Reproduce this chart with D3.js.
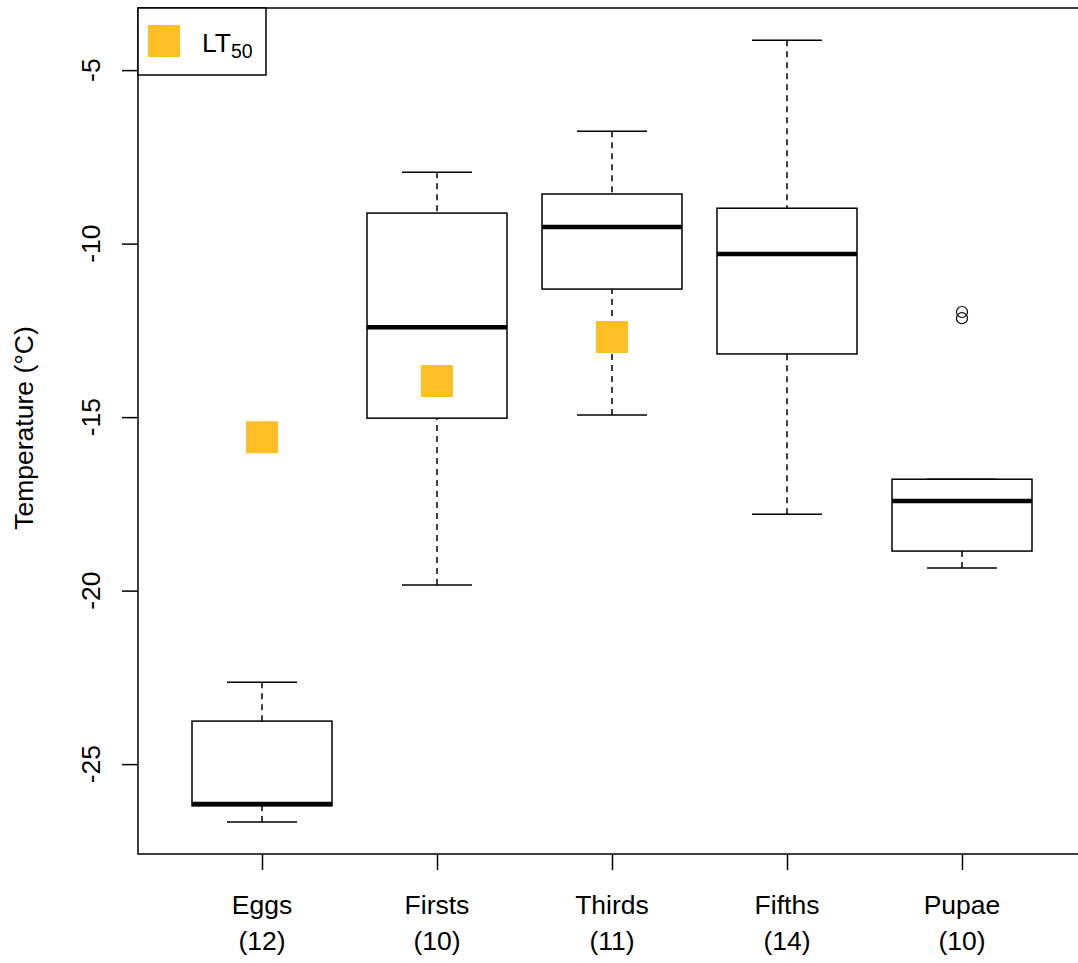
<!DOCTYPE html>
<html>
<head>
<meta charset="utf-8">
<script src="https://cdn.jsdelivr.net/npm/d3@7"></script>
<style>
  body { margin: 0; background: #fff; }
  text { font-family: "Liberation Sans", Arial, sans-serif; fill: #000; }
</style>
</head>
<body>
<svg id="chart" width="1078" height="963"></svg>
<script>
// stages and sample sizes
const stages = ['Eggs', 'Firsts', 'Thirds', 'Fifths', 'Pupae'];
const counts = [12, 10, 11, 14, 10];

// boxplot stats: lower whisker, Q1, median, Q3, upper whisker
const lowerWhisker = [-26.67, -19.84, -14.94, -17.80, -19.35];
const q1 = [-26.2, -15.03, -11.31, -13.18, -18.86];
const medians = [-26.15, -12.41, -9.52, -10.30, -17.42];
const q3 = [-23.76, -9.12, -8.57, -8.98, -16.79];
const upperWhisker = [-22.64, -7.94, -6.76, -4.14, -16.79];

// outliers as [stage, value]
const outliers = [['Pupae', -11.97], ['Pupae', -12.15]];

// LT50 points
const lt50Stages = ['Eggs', 'Firsts', 'Thirds'];
const lt50Values = [-15.58, -13.96, -12.69];

const yTicks = [-5, -10, -15, -20, -25];

const CONFIG = {
    LEFT: 138, RIGHT: 1225, TOP: 8, BOTTOM: 854,
    BOX_WIDTH: 140, CAP_WIDTH: 70,
    LT_COLOR: '#FDBE26',
    FONT_SIZE: 26.5
};

const svg = d3.select('#chart');

const x = d3.scalePoint()
    .domain(stages)
    .range([262, 962]);

const y = d3.scaleLinear()
    .domain([-27.59, -3.21])
    .range([CONFIG.BOTTOM, CONFIG.TOP]);

const boxes = stages.map((s, i) => ({
    stage: s, n: counts[i],
    lo: lowerWhisker[i], q1: q1[i], med: medians[i], q3: q3[i], hi: upperWhisker[i]
}));

const g = svg.append('g');

// whiskers (dashed)
g.selectAll('.whisk-lo').data(boxes).enter().append('line')
    .attr('x1', d => x(d.stage)).attr('x2', d => x(d.stage))
    .attr('y1', d => y(d.lo)).attr('y2', d => y(d.q1))
    .attr('stroke', '#000').attr('stroke-width', 1.5).attr('stroke-dasharray', '6,5');
g.selectAll('.whisk-hi').data(boxes).enter().append('line')
    .attr('x1', d => x(d.stage)).attr('x2', d => x(d.stage))
    .attr('y1', d => y(d.hi)).attr('y2', d => y(d.q3))
    .attr('stroke', '#000').attr('stroke-width', 1.5).attr('stroke-dasharray', '6,5');

// caps
['lo', 'hi'].forEach(k => {
    g.selectAll('.cap-' + k).data(boxes).enter().append('line')
        .attr('x1', d => x(d.stage) - CONFIG.CAP_WIDTH / 2)
        .attr('x2', d => x(d.stage) + CONFIG.CAP_WIDTH / 2)
        .attr('y1', d => y(d[k])).attr('y2', d => y(d[k]))
        .attr('stroke', '#000').attr('stroke-width', 1.5);
});

// boxes
g.selectAll('.box').data(boxes).enter().append('rect')
    .attr('x', d => x(d.stage) - CONFIG.BOX_WIDTH / 2)
    .attr('width', CONFIG.BOX_WIDTH)
    .attr('y', d => y(d.q3))
    .attr('height', d => y(d.q1) - y(d.q3))
    .attr('fill', '#fff').attr('stroke', '#000').attr('stroke-width', 1.5);

// medians
g.selectAll('.median').data(boxes).enter().append('line')
    .attr('x1', d => x(d.stage) - CONFIG.BOX_WIDTH / 2)
    .attr('x2', d => x(d.stage) + CONFIG.BOX_WIDTH / 2)
    .attr('y1', d => y(d.med)).attr('y2', d => y(d.med))
    .attr('stroke', '#000').attr('stroke-width', 4.5);

// outliers
g.selectAll('.outlier').data(outliers).enter().append('circle')
    .attr('cx', d => x(d[0])).attr('cy', d => y(d[1]))
    .attr('r', 5.5)
    .attr('fill', 'none').attr('stroke', '#000').attr('stroke-width', 1.2);

// LT50 squares
g.selectAll('.lt50').data(lt50Stages).enter().append('rect')
    .attr('x', d => x(d) - 16)
    .attr('y', (d, i) => y(lt50Values[i]) - 16)
    .attr('width', 32).attr('height', 32)
    .attr('fill', CONFIG.LT_COLOR);

// plot frame
svg.append('rect')
    .attr('x', CONFIG.LEFT).attr('y', CONFIG.TOP)
    .attr('width', CONFIG.RIGHT - CONFIG.LEFT)
    .attr('height', CONFIG.BOTTOM - CONFIG.TOP)
    .attr('fill', 'none').attr('stroke', '#000').attr('stroke-width', 1.5);

// y axis
const yAxis = svg.append('g')
    .attr('transform', 'translate(' + CONFIG.LEFT + ',0)')
    .call(d3.axisLeft(y).tickValues(yTicks).tickSize(16).tickFormat(''));
yAxis.select('.domain').remove();
yAxis.selectAll('line').attr('stroke', '#000').attr('stroke-width', 1.5);

svg.append('g').selectAll('text').data(yTicks).enter().append('text')
    .attr('transform', d => 'translate(100,' + y(d) + ') rotate(-90)')
    .attr('text-anchor', 'middle')
    .style('font-size', CONFIG.FONT_SIZE + 'px')
    .text(d => String(d));

// x axis
const xAxis = svg.append('g')
    .attr('transform', 'translate(0,' + CONFIG.BOTTOM + ')')
    .call(d3.axisBottom(x).tickSize(16).tickFormat(''));
xAxis.select('.domain').remove();
xAxis.selectAll('line').attr('stroke', '#000').attr('stroke-width', 1.5);

const xLabels = svg.append('g').selectAll('text').data(boxes).enter();
xLabels.append('text')
    .attr('x', d => x(d.stage)).attr('y', 914)
    .attr('text-anchor', 'middle')
    .style('font-size', CONFIG.FONT_SIZE + 'px')
    .text(d => d.stage);
xLabels.append('text')
    .attr('x', d => x(d.stage)).attr('y', 950)
    .attr('text-anchor', 'middle')
    .style('font-size', CONFIG.FONT_SIZE + 'px')
    .text(d => '(' + d.n + ')');

// y label
svg.append('text')
    .attr('transform', 'translate(33,428) rotate(-90)')
    .attr('text-anchor', 'middle')
    .style('font-size', CONFIG.FONT_SIZE + 'px')
    .text('Temperature (°C)');

// legend
const legend = svg.append('g');
legend.append('rect')
    .attr('x', CONFIG.LEFT).attr('y', CONFIG.TOP)
    .attr('width', 128).attr('height', 67)
    .attr('fill', '#fff').attr('stroke', '#000').attr('stroke-width', 1.5);
legend.append('rect')
    .attr('x', 148).attr('y', 25).attr('width', 32).attr('height', 32)
    .attr('fill', CONFIG.LT_COLOR);
const lt = legend.append('text')
    .attr('x', 202).attr('y', 52)
    .style('font-size', CONFIG.FONT_SIZE + 'px');
lt.append('tspan').text('LT');
lt.append('tspan').attr('dy', 6).style('font-size', '19.5px').text('50');
</script>
</body>
</html>
